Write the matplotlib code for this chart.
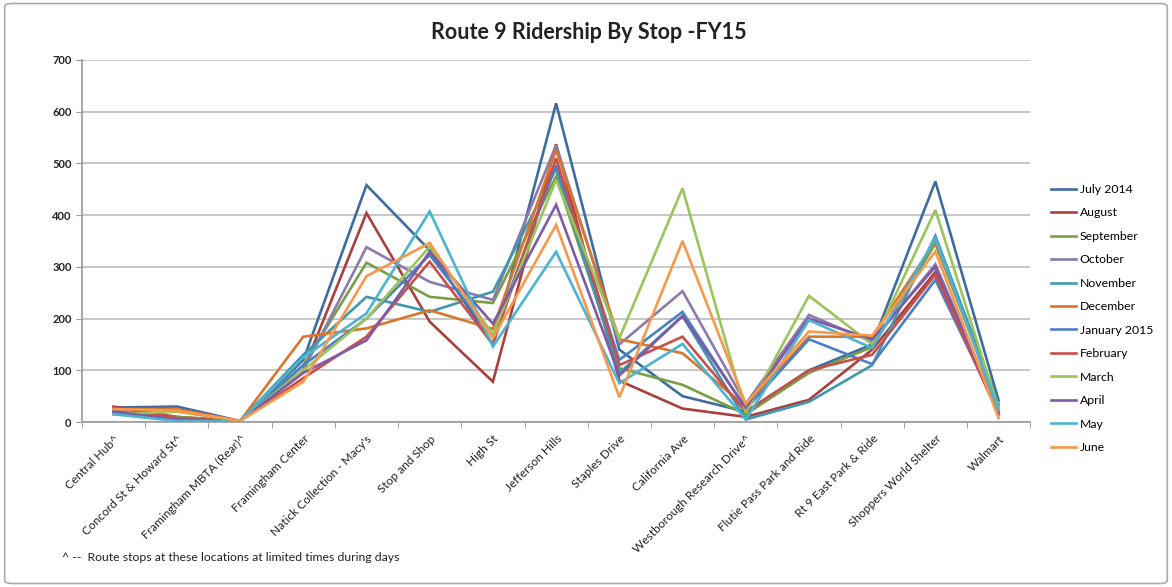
import numpy as np
import matplotlib
matplotlib.use("Agg")
import matplotlib.pyplot as plt
from matplotlib.patches import FancyBboxPatch

plt.rcParams['font.family'] = ['Lato', 'DejaVu Sans']

stops = ["Central Hub^", "Concord St & Howard St^", "Framingham MBTA (Rear)^",
         "Framingham Center", "Natick Collection - Macy's", "Stop and Shop",
         "High St", "Jefferson Hills", "Staples Drive", "California Ave",
         "Westborough Research Drive^", "Flutie Pass Park and Ride",
         "Rt 9 East Park & Ride", "Shoppers World Shelter", "Walmart"]

months = ["July 2014", "August", "September", "October", "November", "December",
          "January 2015", "February", "March", "April", "May", "June"]

colors = ["#3F6CA0", "#A8403D", "#76A043", "#8C7AAA", "#3E98B0", "#D9762C",
          "#4A80C4", "#C8504C", "#9BC45A", "#7E5BA6", "#4BB4D0", "#F7984A"]

jul = [28, 30, 2, 120, 458, 332, 150, 616, 140, 50, 20, 100, 150, 465, 42]
aug = [30, 10, 2, 100, 404, 194, 78, 537, 80, 26, 10, 43, 140, 290, 15]
sep = [15, 10, 2, 110, 308, 242, 230, 475, 104, 72, 15, 95, 145, 345, 30]
oct_ = [20, 5, 2, 100, 338, 271, 236, 535, 150, 253, 35, 207, 155, 305, 20]
nov = [18, 3, 2, 130, 242, 213, 252, 490, 95, 205, 5, 39, 110, 360, 35]
dec = [25, 25, 2, 165, 181, 216, 180, 526, 160, 133, 30, 165, 165, 350, 25]
jan = [22, 5, 2, 110, 200, 323, 165, 497, 120, 213, 25, 160, 112, 275, 20]
feb = [28, 8, 2, 85, 165, 310, 150, 510, 110, 165, 20, 100, 130, 285, 15]
mar = [15, 20, 2, 100, 200, 339, 170, 468, 162, 452, 18, 244, 150, 410, 25]
apr = [20, 5, 2, 95, 158, 329, 190, 420, 90, 205, 28, 200, 160, 300, 18]
may = [15, 2, 2, 125, 210, 407, 146, 329, 75, 151, 5, 197, 143, 355, 22]
jun = [25, 22, 2, 78, 282, 346, 162, 381, 48, 350, 35, 175, 167, 330, 8]

series = [jul, aug, sep, oct_, nov, dec, jan, feb, mar, apr, may, jun]

fig = plt.figure(figsize=(11.72, 5.87), dpi=100)
ax = fig.add_axes([0.070, 0.281, 0.809, 0.617])

x = np.arange(len(stops))
for name, vals, c in zip(months, series, colors):
    ax.plot(x, vals, color=c, lw=1.9, label=name, solid_joinstyle='miter')

ax.set_xlim(-0.5, len(stops) - 0.5)
ax.set_ylim(0, 700)
ax.set_yticks(range(0, 701, 100))
ax.grid(axis='y', color='#BEBEBE', lw=1.2)
ax.set_axisbelow(True)

ax.set_xticks(x)
ax.set_xticklabels(stops, rotation=45, ha='right', rotation_mode='anchor',
                   fontsize=8.6, color='#222222')
ax.set_xticks(np.arange(-0.5, len(stops), 1), minor=True)
ax.tick_params(axis='x', which='major', length=0, pad=8)
ax.tick_params(axis='x', which='minor', length=4, color='#999999')
ax.tick_params(axis='y', length=4, color='#999999', labelsize=8, labelcolor='#222222')
for lbl in ax.get_yticklabels():
    lbl.set_fontweight('bold')

for s in ['top', 'right']:
    ax.spines[s].set_visible(False)
for s in ['left', 'bottom']:
    ax.spines[s].set_color('#999999')
    ax.spines[s].set_linewidth(1.2)

fig.text(0.502, 0.944, "Route 9 Ridership By Stop -FY15", ha='center', va='center',
         fontsize=15.5, fontweight='bold', color='#222222')

fig.legend(loc='upper left', bbox_to_anchor=(0.893, 0.695), frameon=False,
           fontsize=8.8, handlelength=2.0, handletextpad=0.3, labelspacing=1.02,
           borderaxespad=0)

fig.text(0.053, 0.051, "^ --  Route stops at these locations at limited times during days",
         ha='left', va='center', fontsize=8.8, color='#222222')

border = FancyBboxPatch((0.004, 0.006), 0.992, 0.988, boxstyle="round,pad=0,rounding_size=0.006",
                        transform=fig.transFigure, fill=False, edgecolor='#AAAAAA', lw=1.2)
fig.patches.append(border)

fig.savefig("out.png", dpi=100)
